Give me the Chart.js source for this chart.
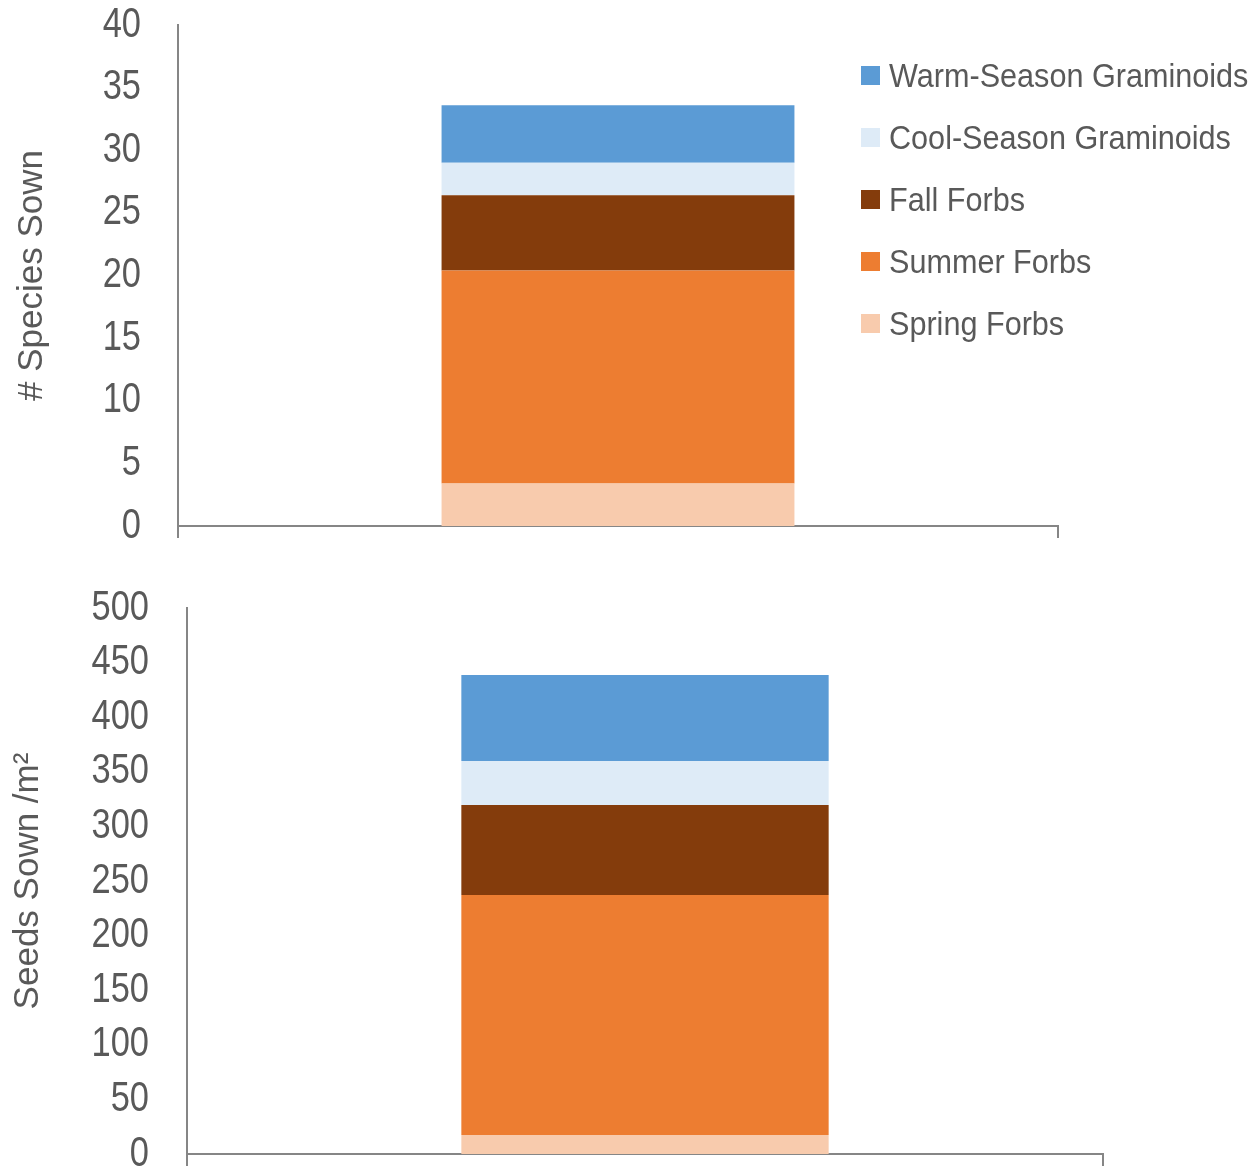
<!DOCTYPE html>
<html>
<head>
<meta charset="utf-8">
<title>Species and seeds sown</title>
<script src="https://cdn.jsdelivr.net/npm/chart.js@4/dist/chart.umd.min.js"></script>
<style>
  body { margin: 0; background: #fff; }
  #wrap { position: relative; width: 1253px; height: 1168px; }
  #speciesChart { position: absolute; left: 0; top: 0; }
  #seedsChart { position: absolute; left: 0; top: 570px; }
  #legend {
    position: absolute; left: 861px; top: 45px;
    margin: 0; padding: 0; list-style: none;
    font-family: 'Liberation Sans', Arial, sans-serif;
    font-size: 34px; color: #595959;
  }
  #legend li { display: flex; align-items: center; height: 61.8px; white-space: nowrap; }
  #legend span.box { display: inline-block; width: 19px; height: 19px; margin-right: 9px; flex: none; }
  #legend span.txt { display: inline-block; transform: scaleX(0.9); transform-origin: left center; }
</style>
</head>
<body>
<div id="wrap">
  <canvas id="speciesChart" width="1253" height="560"></canvas>
  <canvas id="seedsChart" width="1253" height="598"></canvas>
  <ul id="legend"></ul>
</div>
<script>
// stacking order, bottom to top
const groups = ['Spring Forbs', 'Summer Forbs', 'Fall Forbs', 'Cool-Season Graminoids', 'Warm-Season Graminoids'];
const groupColors = ['#F8CBAD', '#ED7D31', '#843C0C', '#DEEBF7', '#5B9BD5'];

// one value per group
const speciesSown = [3.4, 17.0, 6.0, 2.6, 4.6];
const seedsSown = [17.4, 219.8, 82.4, 40.3, 78.7];

const speciesTicks = [0, 5, 10, 15, 20, 25, 30, 35, 40];
const seedsTicks = [0, 50, 100, 150, 200, 250, 300, 350, 400, 450, 500];

const textColor = '#595959';
const axisColor = '#868686';
const sans = "'Liberation Sans', Arial, sans-serif";

// y tick labels in a condensed face: Liberation Sans squeezed horizontally
const condensedTicks = {
  id: 'condensedTicks',
  afterDraw(chart, args, opts) {
    const s = chart.scales.y;
    const ctx = chart.ctx;
    ctx.save();
    ctx.fillStyle = textColor;
    ctx.font = '42px ' + sans;
    ctx.textAlign = 'right';
    ctx.textBaseline = 'middle';
    s.ticks.forEach(t => {
      ctx.save();
      ctx.translate(s.right - opts.gap, s.getPixelForValue(t.value));
      ctx.scale(0.82, 1);
      ctx.fillText(String(t.value), 0, 0);
      ctx.restore();
    });
    ctx.restore();
  },
};

function stackedChart(id, values, ticks, title, box) {
  return new Chart(document.getElementById(id), {
    type: 'bar',
    data: {
      labels: [''],
      datasets: groups.map((g, i) => ({
        label: g,
        data: [values[i]],
        backgroundColor: groupColors[i],
        borderWidth: 0,
        categoryPercentage: 1,
        barPercentage: 0.401,
      })),
    },
    options: {
      responsive: false,
      animation: false,
      layout: { padding: { top: box.top, right: box.right, left: 0, bottom: 0 } },
      plugins: {
        legend: { display: false },
        tooltip: { enabled: false },
        condensedTicks: { gap: box.tickGap },
      },
      scales: {
        x: {
          stacked: true,
          ticks: { display: false },
          grid: {
            display: true, drawOnChartArea: false, drawTicks: true,
            tickLength: 12, color: axisColor, lineWidth: 2, offset: true,
          },
          border: { display: true, color: axisColor, width: 2 },
          afterFit: s => { s.height = box.bottom; },
        },
        y: {
          stacked: true,
          min: ticks[0],
          max: ticks[ticks.length - 1],
          afterBuildTicks: s => { s.ticks = ticks.map(v => ({ value: v })); },
          ticks: { display: false },
          grid: { display: false, drawTicks: false },
          border: { display: true, color: axisColor, width: 2 },
          title: {
            display: true, text: title, color: textColor,
            font: { family: sans, size: 35 },
            padding: { top: box.titlePad, bottom: 0 },
          },
          afterFit: s => { s.width = box.left; },
        },
      },
    },
    plugins: [condensedTicks],
  });
}

stackedChart('speciesChart', speciesSown, speciesTicks, '# Species Sown',
  { top: 25, right: 195, bottom: 34, left: 178, tickGap: 37, titlePad: 11 });
stackedChart('seedsChart', seedsSown, seedsTicks, 'Seeds Sown /m\u00B2',
  { top: 38, right: 150, bottom: 14, left: 187, tickGap: 38, titlePad: 7 });

// legend lists the top of the stack first
const legend = document.getElementById('legend');
for (let i = groups.length - 1; i >= 0; i--) {
  const li = document.createElement('li');
  const sw = document.createElement('span');
  sw.className = 'box';
  sw.style.background = groupColors[i];
  const txt = document.createElement('span');
  txt.className = 'txt';
  txt.textContent = groups[i];
  li.appendChild(sw);
  li.appendChild(txt);
  legend.appendChild(li);
}
</script>
</body>
</html>
